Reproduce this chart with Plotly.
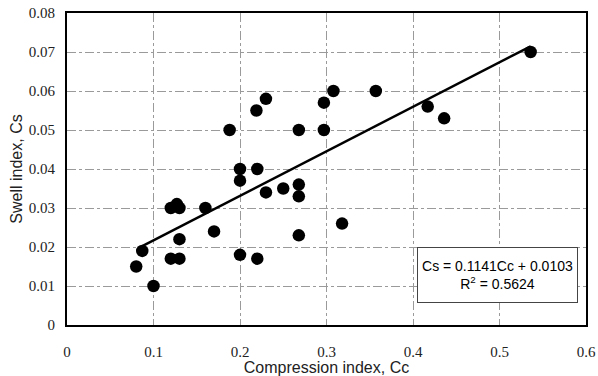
import plotly.graph_objects as go

cc = [0.080, 0.087, 0.100, 0.120, 0.130, 0.130, 0.120, 0.127, 0.130, 0.160, 0.170,
      0.188, 0.200, 0.200, 0.200, 0.219, 0.220, 0.220, 0.230, 0.230, 0.250,
      0.268, 0.268, 0.268, 0.268, 0.297, 0.297, 0.308, 0.318, 0.357, 0.417, 0.436, 0.536]
cs = [0.015, 0.019, 0.010, 0.017, 0.017, 0.022, 0.030, 0.031, 0.030, 0.030, 0.024,
      0.050, 0.040, 0.037, 0.018, 0.055, 0.040, 0.017, 0.058, 0.034, 0.035,
      0.050, 0.036, 0.033, 0.023, 0.057, 0.050, 0.060, 0.026, 0.060, 0.056, 0.053, 0.070]

slope = 0.1141
intercept = 0.0103
trend_x = [0.087, 0.536]
trend_y = [slope * x + intercept for x in trend_x]

x_ticks = [0, 0.1, 0.2, 0.3, 0.4, 0.5, 0.6]
x_labels = ["0", "0.1", "0.2", "0.3", "0.4", "0.5", "0.6"]
y_ticks = [0, 0.01, 0.02, 0.03, 0.04, 0.05, 0.06, 0.07, 0.08]
y_labels = ["0", "0.01", "0.02", "0.03", "0.04", "0.05", "0.06", "0.07", "0.08"]

fig = go.Figure()
fig.add_trace(go.Scatter(x=trend_x, y=trend_y, mode="lines",
                         line=dict(color="black", width=2.5), showlegend=False))
fig.add_trace(go.Scatter(x=cc, y=cs, mode="markers",
                         marker=dict(color="black", size=12.5), showlegend=False))

fig.add_annotation(x=0.592, y=0.0129, xref="x", yref="y", xanchor="right", yanchor="middle",
                   xshift=-1,
                   text="Cs = 0.1141Cc + 0.0103<br>R<sup>2</sup> = 0.5624",
                   showarrow=False, align="center", width=151, height=46,
                   font=dict(family="Liberation Sans, Arial", size=14, color="black"),
                   bordercolor="#444", borderwidth=1, borderpad=4, bgcolor="white")

axis_common = dict(showline=True, linecolor="black", linewidth=2, mirror=True,
                   showgrid=True, gridcolor="#9a9a9a", griddash="dashdot", gridwidth=1,
                   zeroline=False, ticks="", automargin=False,
                   tickfont=dict(family="'Liberation Serif', 'DejaVu Serif', serif", size=15, color="#222"))

fig.update_layout(
    width=598, height=376,
    margin=dict(l=67, r=12, t=13, b=51),
    paper_bgcolor="white", plot_bgcolor="white",
    xaxis=dict(range=[0, 0.6], tickvals=x_ticks, ticktext=x_labels,
               title=dict(text="Compression index, Cc", standoff=4,
                          font=dict(family="Liberation Sans, Arial", size=16, color="#222")),
               ticklabelstandoff=12, **axis_common),
    yaxis=dict(range=[0, 0.08], tickvals=y_ticks, ticktext=y_labels,
               title=dict(text="Swell index, Cs", standoff=2,
                          font=dict(family="Liberation Sans, Arial", size=16, color="#222")),
               ticklabelstandoff=7, **axis_common),
)

fig.write_html("out.html")
